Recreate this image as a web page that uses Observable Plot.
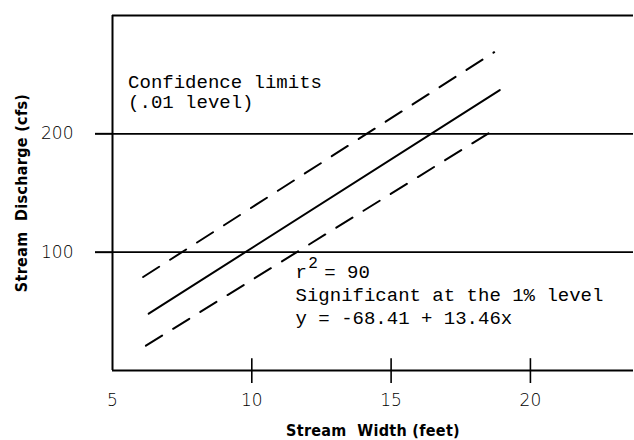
<!DOCTYPE html>
<html><head><meta charset="utf-8">
<script src="https://cdn.jsdelivr.net/npm/d3@7"></script>
<script src="https://cdn.jsdelivr.net/npm/@observablehq/plot@0.6"></script>
<style>
body{margin:0;background:#fff}
svg{display:block}
g[aria-label="x-axis label"] text, g[aria-label="y-axis label"] text,
g[aria-label="x-axis label"], g[aria-label="y-axis label"]{font-family:"DejaVu Sans Condensed","DejaVu Sans";font-weight:bold;font-size:16px;letter-spacing:0.3px;fill:#000}
g[aria-label="x-axis tick label"], g[aria-label="y-axis tick label"]{font-family:"DejaVu Sans";font-weight:300;font-size:17px;fill:#000}
g[aria-label="y-axis tick"]{stroke-width:2px}
</style>
</head><body><div id="chart"></div>
<script>
// axes
const xTicks = [5, 10, 15, 20];
const xTickMarks = [10, 15, 20];
const yTicks = [100, 200];
// regression line and .01 confidence limits
const fitX = [6.3, 18.9];
const fitY = [48, 237];
const upperX = [6.1, 18.7];
const upperY = [79, 269];
const lowerX = [6.2, 18.6];
const lowerY = [21, 202];
// annotations
const noteLines = ["Confidence limits", "(.01 level)"];
const noteX = 5.56;
const noteY = [239, 222];
const rText = "r";
const rX = 11.57;
const rY = 78;
const supText = "2";
const supX = 12.03;
const supY = 87;
const rValText = "= 90";
const rValX = 12.6;
const statLines = ["Significant at the 1% level", "y = -68.41 + 13.46x"];
const statX = 11.57;
const statY = [58.5, 39];

const pts = (xs, ys) => xs.map((x, i) => ({x, y: ys[i]}));
const mono = {fontFamily: "Liberation Mono", fontSize: 19, fill: "#000", textAnchor: "start", lineAnchor: "bottom"};

const chart = Plot.plot({
  width: 634, height: 440,
  marginLeft: 112, marginRight: 1, marginTop: 15, marginBottom: 70,
  style: {background: "#fff", color: "#000"},
  x: {domain: [5, 23.7], ticks: xTicks, tickSize: 0, tickPadding: 23, label: "Stream  Width (feet)", labelAnchor: "center", labelOffset: 65, labelArrow: "none"},
  y: {domain: [0, 300], ticks: yTicks, tickSize: 17, tickPadding: 22, label: "Stream  Discharge (cfs)", labelAnchor: "center", labelOffset: 97, labelArrow: "none"},
  marks: [
    Plot.ruleX([5], {strokeWidth: 2}),
    Plot.ruleY([0, 300], {strokeWidth: 2}),
    Plot.ruleY(yTicks, {strokeWidth: 1.8}),
    Plot.ruleX(xTickMarks, {y1: -11, y2: 10, strokeWidth: 1.6}),
    Plot.line(pts(fitX, fitY), {x: "x", y: "y", strokeWidth: 2}),
    Plot.line(pts(upperX, upperY), {x: "x", y: "y", strokeWidth: 2, strokeDasharray: "19,13"}),
    Plot.line(pts(lowerX, lowerY), {x: "x", y: "y", strokeWidth: 2, strokeDasharray: "19,13"}),
    Plot.text(noteLines.map((t, i) => ({t, x: noteX, y: noteY[i]})), {x: "x", y: "y", text: "t", ...mono}),
    Plot.text([{t: rText, x: rX, y: rY}, {t: rValText, x: rValX, y: rY}], {x: "x", y: "y", text: "t", ...mono}),
    Plot.text([{t: supText, x: supX, y: supY}], {x: "x", y: "y", text: "t", ...mono, fontSize: 16}),
    Plot.text(statLines.map((t, i) => ({t, x: statX, y: statY[i]})), {x: "x", y: "y", text: "t", ...mono})
  ]
});
document.getElementById("chart").appendChild(chart);
</script>
</body></html>
